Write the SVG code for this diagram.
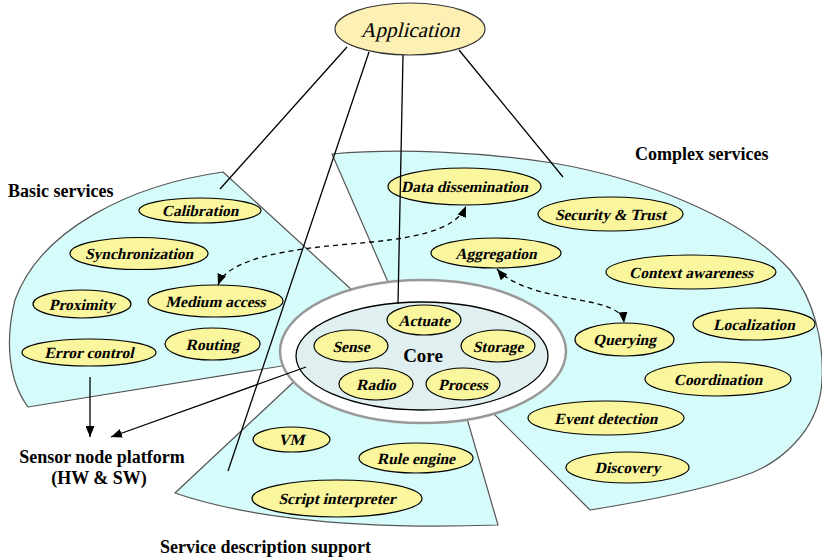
<svg xmlns="http://www.w3.org/2000/svg" width="822" height="560" viewBox="0 0 822 560">
  <style>
    .wedge { fill: #d6fbfb; stroke: #555; stroke-width: 1.2; stroke-linejoin: round; }
    .svc { fill: #faf69e; stroke: #000; stroke-width: 1.2; }
    .svc-t { font-family: "Liberation Serif", "Times New Roman", serif; font-size: 15.5px; font-weight: bold; text-anchor: middle; fill: #000; }
    .title { font-family: "Liberation Serif", "Times New Roman", serif; font-size: 18px; font-weight: bold; fill: #000; }
    .link { fill: none; stroke: #000; stroke-width: 1.3; }
    .dash { fill: none; stroke: #000; stroke-width: 1.3; stroke-dasharray: 5 4; }
  </style>
  <defs>
    <marker id="head" markerUnits="userSpaceOnUse" markerWidth="11" markerHeight="9" refX="11" refY="4.5" orient="auto-start-reverse" viewBox="0 0 11 9">
      <path d="M0,0 L11,4.5 L0,9 Z" fill="#000"/>
    </marker>
  </defs>

  <rect width="822" height="560" fill="#fff"/>

  <!-- service regions -->
  <g id="basic-services">
    <path class="wedge" d="M223,172 C130,185 40,230 15,300 C5,340 8,380 28,407 L412,345 Z"/>
    <text class="title" x="8" y="197">Basic services</text>
  </g>
  <g id="complex-services">
    <path class="wedge" d="M332,154 C400,148 480,152 553,163 C640,178 740,215 790,270 C815,300 824,345 822,380 C820,430 780,465 740,477 C700,490 640,502 590,510 L485,405 L400,300 L388,282 Z"/>
    <text class="title" x="635" y="160">Complex services</text>
  </g>
  <g id="service-description">
    <path class="wedge" d="M175,493 L300,376 L423,400 L466,415 L498,525 C330,531 230,512 175,493 Z"/>
    <text class="title" x="160" y="553">Service description support</text>
  </g>

  <!-- core ring -->
  <g id="core">
    <ellipse cx="423" cy="351.5" rx="143" ry="71.5" fill="#fff" stroke="#999" stroke-width="2.5"/>
    <ellipse cx="422" cy="356" rx="126" ry="54" fill="#e0f0f0" stroke="#000" stroke-width="1.3"/>
    <text x="423" y="362" font-family="Liberation Serif, Times New Roman, serif" font-size="19" font-weight="bold" text-anchor="middle">Core</text>
  </g>

  <!-- application (slanted serif lettering) -->
  <g id="application">
    <ellipse cx="410" cy="29" rx="75" ry="26" fill="#fdf0b4" stroke="#333" stroke-width="1.2"/>
    <text transform="translate(410,37) skewX(-14)" font-family="Liberation Serif, Times New Roman, serif" font-size="21" text-anchor="middle">Application</text>
  </g>

  <!-- core functions -->
  <g id="actuate"><ellipse class="svc" cx="424" cy="320" rx="37" ry="15"/><text class="svc-t" transform="translate(424,325.5) skewX(-13)">Actuate</text></g>
  <g id="sense"><ellipse class="svc" cx="351" cy="346" rx="37" ry="16"/><text class="svc-t" transform="translate(351,351.5) skewX(-13)">Sense</text></g>
  <g id="storage"><ellipse class="svc" cx="498" cy="346" rx="37" ry="16"/><text class="svc-t" transform="translate(498,351.5) skewX(-13)">Storage</text></g>
  <g id="radio"><ellipse class="svc" cx="376" cy="384" rx="37" ry="16"/><text class="svc-t" transform="translate(376,389.5) skewX(-13)">Radio</text></g>
  <g id="process"><ellipse class="svc" cx="463" cy="384" rx="37" ry="16"/><text class="svc-t" transform="translate(463,389.5) skewX(-13)">Process</text></g>

  <!-- basic services -->
  <g id="calibration"><ellipse class="svc" cx="200" cy="210.5" rx="61" ry="12.5"/><text class="svc-t" transform="translate(200,216) skewX(-13)">Calibration</text></g>
  <g id="synchronization"><ellipse class="svc" cx="139" cy="253.5" rx="69" ry="16"/><text class="svc-t" transform="translate(139,259) skewX(-13)">Synchronization</text></g>
  <g id="proximity"><ellipse class="svc" cx="82" cy="304" rx="49" ry="14"/><text class="svc-t" transform="translate(82,309.5) skewX(-13)">Proximity</text></g>
  <g id="medium-access"><ellipse class="svc" cx="215.5" cy="301" rx="67.5" ry="16"/><text class="svc-t" transform="translate(215.5,306.5) skewX(-13)">Medium access</text></g>
  <g id="error-control"><ellipse class="svc" cx="89" cy="352.5" rx="67" ry="13.5"/><text class="svc-t" transform="translate(89,358) skewX(-13)">Error control</text></g>
  <g id="routing"><ellipse class="svc" cx="212.5" cy="344" rx="47.5" ry="16"/><text class="svc-t" transform="translate(212.5,349.5) skewX(-13)">Routing</text></g>

  <!-- complex services -->
  <g id="data-dissemination"><ellipse class="svc" cx="464.5" cy="186.5" rx="76.5" ry="18.5"/><text class="svc-t" transform="translate(464.5,192) skewX(-13)">Data dissemination</text></g>
  <g id="security-trust"><ellipse class="svc" cx="610.5" cy="214" rx="72.5" ry="17"/><text class="svc-t" transform="translate(610.5,219.5) skewX(-13)">Security &amp; Trust</text></g>
  <g id="aggregation"><ellipse class="svc" cx="496" cy="253" rx="65" ry="15"/><text class="svc-t" transform="translate(496,258.5) skewX(-13)">Aggregation</text></g>
  <g id="context-awareness"><ellipse class="svc" cx="691" cy="272" rx="85" ry="17"/><text class="svc-t" transform="translate(691,277.5) skewX(-13)">Context awareness</text></g>
  <g id="localization"><ellipse class="svc" cx="754" cy="324" rx="61" ry="16"/><text class="svc-t" transform="translate(754,329.5) skewX(-13)">Localization</text></g>
  <g id="querying"><ellipse class="svc" cx="624.5" cy="339.5" rx="49.5" ry="16.5"/><text class="svc-t" transform="translate(624.5,345) skewX(-13)">Querying</text></g>
  <g id="coordination"><ellipse class="svc" cx="718" cy="379" rx="73" ry="17"/><text class="svc-t" transform="translate(718,384.5) skewX(-13)">Coordination</text></g>
  <g id="event-detection"><ellipse class="svc" cx="606" cy="418" rx="78" ry="17"/><text class="svc-t" transform="translate(606,423.5) skewX(-13)">Event detection</text></g>
  <g id="discovery"><ellipse class="svc" cx="627.5" cy="467.5" rx="61.5" ry="15.5"/><text class="svc-t" transform="translate(627.5,473) skewX(-13)">Discovery</text></g>

  <!-- service description support -->
  <g id="vm"><ellipse class="svc" cx="291.5" cy="439.5" rx="38.5" ry="12.5"/><text class="svc-t" transform="translate(291.5,445) skewX(-13)">VM</text></g>
  <g id="rule-engine"><ellipse class="svc" cx="416" cy="458" rx="57" ry="15"/><text class="svc-t" transform="translate(416,463.5) skewX(-13)">Rule engine</text></g>
  <g id="script-interpreter"><ellipse class="svc" cx="337" cy="498.5" rx="85" ry="18.5"/><text class="svc-t" transform="translate(337,504) skewX(-13)">Script interpreter</text></g>

  <!-- platform -->
  <g id="sensor-node-platform">
    <text class="title" x="102" y="463" text-anchor="middle">Sensor node platform</text>
    <text class="title" x="99" y="484" text-anchor="middle">(HW &amp; SW)</text>
  </g>

  <!-- connectors -->
  <g id="connectors">
    <line class="link" x1="347" y1="47" x2="220" y2="189"/>
    <line class="link" x1="369" y1="52" x2="228" y2="471"/>
    <line class="link" x1="403" y1="55" x2="398" y2="304"/>
    <line class="link" x1="459" y1="50" x2="563" y2="177"/>
    <line class="link" x1="90" y1="377" x2="90" y2="437" marker-end="url(#head)"/>
    <line class="link" x1="306" y1="367" x2="111" y2="437" marker-end="url(#head)"/>
    <path class="dash" d="M218,285 C228,258 290,249 350,244 C410,239 455,232 466,206" marker-start="url(#head)" marker-end="url(#head)"/>
    <path class="dash" d="M497,269 C515,290 560,296 590,302 C612,307 623,312 624,323" marker-start="url(#head)" marker-end="url(#head)"/>
  </g>
</svg>
